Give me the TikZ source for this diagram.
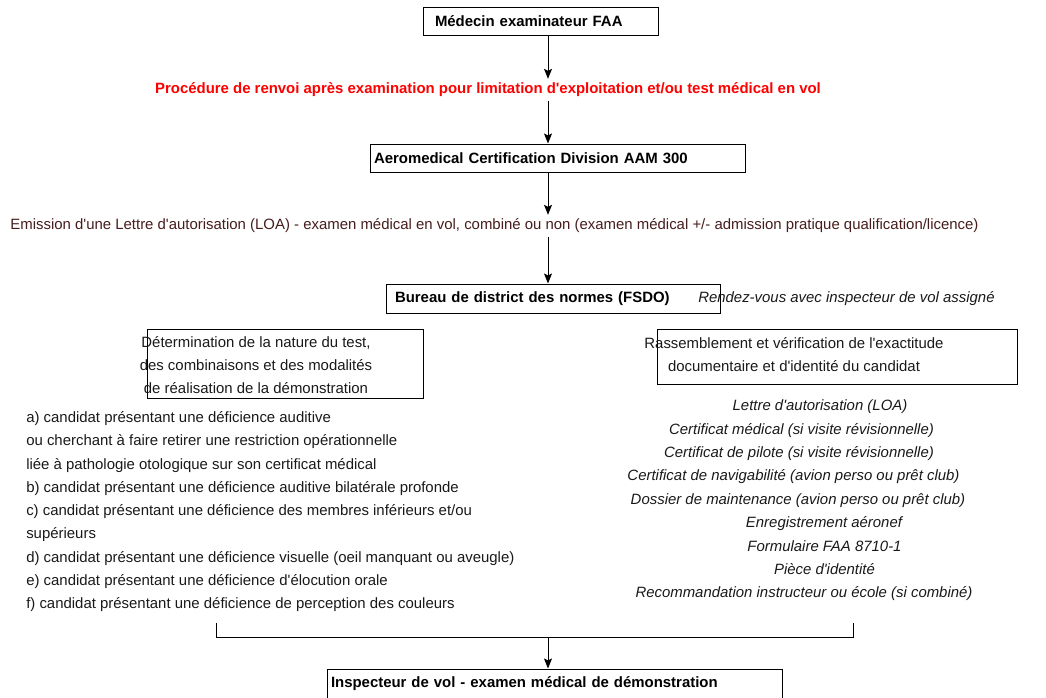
\documentclass[tikz,border=0pt]{standalone}
\usepackage{fontspec}
\setmainfont{Liberation Sans}[Ligatures=TeXOff]
\usetikzlibrary{arrows.meta}
\definecolor{redtxt}{RGB}{255,0,0}
\definecolor{maroontxt}{RGB}{70,28,28}
\definecolor{bodytxt}{RGB}{25,25,25}
\tikzset{
  frame/.style={draw=black, line width=0.75pt, rectangle, inner sep=0pt},
  boxtxt/.style={font=\bfseries, align=left, inner ysep=0pt},
  arr/.style={-{Stealth[length=7.5pt,width=6pt,inset=1.5pt]}, line width=0.75pt},
  lbl/.style={inner xsep=0pt, inner ysep=3pt, text height=8pt, text depth=2.4pt, text=bodytxt},
  twoline/.style={align=center, inner sep=0pt, text=bodytxt, font=\fontsize{11.2pt}{17pt}\selectfont},
}
\begin{document}
\fontsize{11.2pt}{13.4pt}\selectfont
\begin{tikzpicture}[x=0.75pt,y=-0.75pt]
\clip (0,0) rectangle (1046,697);
\path[use as bounding box] (0,0) rectangle (1046,697);
\coordinate (ax) at (548,0);

% boxes
\node[frame, boxtxt, minimum width=176.25pt, minimum height=21pt, inner xsep=9pt, text width=158.25pt] (fme) at (540.5,21) {Médecin examinateur FAA};
\node[lbl, font=\bfseries, text=redtxt] (renvoi) at (488,90) {Procédure de renvoi après examination pour limitation d'exploitation et/ou test médical en vol};
\node[frame, boxtxt, minimum width=281.25pt, minimum height=21pt, inner xsep=3pt, text width=275.25pt] (aam) at (557.5,158) {Aeromedical Certification Division AAM 300};
\node[lbl, text=maroontxt] (loa) at (494.5,226) {Emission d'une Lettre d'autorisation (LOA) - examen médical en vol, combiné ou non (examen médical +/- admission pratique qualification/licence)};
\node[frame, boxtxt, minimum width=250.5pt, minimum height=21.75pt, inner xsep=6.75pt, text width=237pt] (fsdo) at (553,298.5) {Bureau de district des normes (FSDO)};
\node[lbl, anchor=west, font=\itshape] (rdv) at (698,298.5) {Rendez-vous avec inspecteur de vol assigné};

% left branch
\node[frame, minimum width=207pt, minimum height=51.75pt] (detbox) at (285,363.5) {};
\node[twoline] (dettxt) at (256,365) {Détermination de la nature du test,\\des combinaisons et des modalités\\de réalisation de la démonstration};
\foreach \t [count=\i] in {
  {a) candidat présentant une déficience auditive},
  {ou cherchant à faire retirer une restriction opérationnelle},
  {liée à pathologie otologique sur son certificat médical},
  {b) candidat présentant une déficience auditive bilatérale profonde},
  {c) candidat présentant une déficience des membres inférieurs et/ou},
  {supérieurs},
  {d) candidat présentant une déficience visuelle (oeil manquant ou aveugle)},
  {e) candidat présentant une déficience d'élocution orale},
  {f) candidat présentant une déficience de perception des couleurs}}
  \node[lbl, anchor=west] (la\i) at (26,{419+23.25*(\i-1)}) {\t};

% right branch
\node[frame, minimum width=270pt, minimum height=41.25pt] (rasbox) at (837,356.5) {};
\node[twoline] (rastxt) at (794,354.5) {Rassemblement et vérification de l'exactitude\\documentaire et d'identité du candidat};
\foreach \x/\t [count=\i] in {
  820/{Lettre d'autorisation (LOA)},
  801.5/{Certificat médical (si visite révisionnelle)},
  799/{Certificat de pilote (si visite révisionnelle)},
  793.5/{Certificat de navigabilité (avion perso ou prêt club)},
  798/{Dossier de maintenance (avion perso ou prêt club)},
  824/{Enregistrement aéronef},
  824.5/{Formulaire FAA 8710-1},
  824.5/{Pièce d'identité},
  804/{Recommandation instructeur ou école (si combiné)}}
  \node[lbl, font=\itshape] (ra\i) at (\x,{407+23.4*(\i-1)}) {\t};

% final box
\node[frame, boxtxt, minimum width=341.25pt, minimum height=21.75pt, inner xsep=3pt, text width=335.25pt] (insp) at (554.5,683.5) {Inspecteur de vol - examen médical de démonstration};

% connectors
\draw[arr] (fme.south -| ax) -- (renvoi.north -| ax);
\draw[arr] (renvoi.south -| ax) -- (aam.north -| ax);
\draw[arr] (aam.south -| ax) -- (loa.north -| ax);
\draw[arr] (loa.south -| ax) -- (fsdo.north -| ax);

\coordinate (bl) at (216,623);
\coordinate (br) at (853,623);
\coordinate (bj) at (548,637);
\draw[line width=0.75pt] (bl) |- (bj) -| (br);
\draw[arr] (bj) -- (insp.north -| bj);
\end{tikzpicture}
\end{document}
